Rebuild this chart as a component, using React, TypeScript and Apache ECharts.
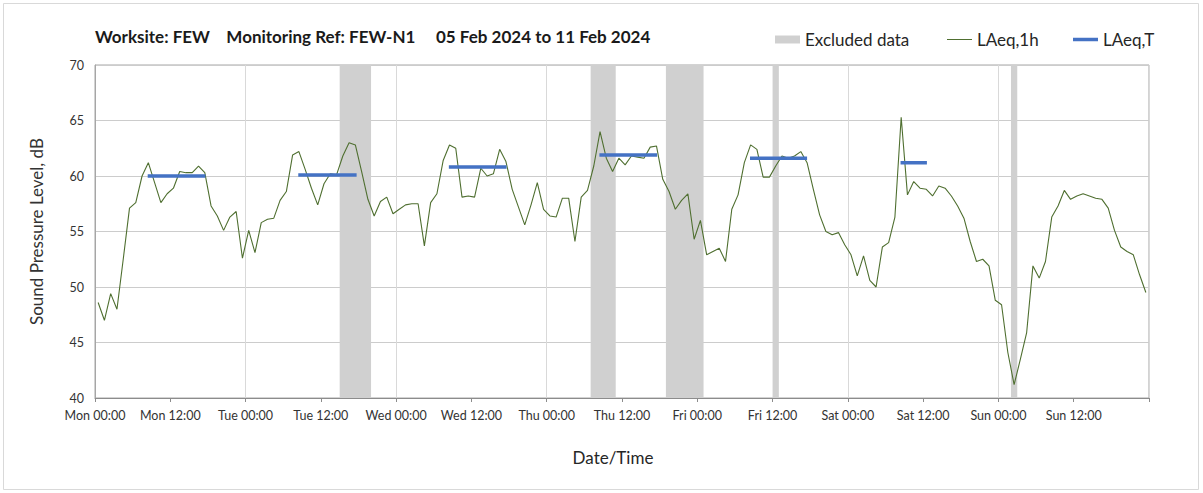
import React, { useEffect, useRef } from "react";
import * as echarts from "echarts";

// Hourly LAeq,1h values, Mon 00:00 .. Sun 23:00 (plotted at mid-hour)
const LAEQ_1H: number[] = [
  48.6, 47.0, 49.4, 48.0, 52.5, 57.1, 57.6, 60.0, 61.2, 59.4,
  57.6, 58.4, 58.9, 60.4, 60.3, 60.3, 60.9, 60.3, 57.3, 56.4,
  55.1, 56.3, 56.8, 52.6, 55.1, 53.1, 55.8, 56.1, 56.2, 57.8,
  58.6, 61.9, 62.2, 60.6, 58.9, 57.4, 59.3, 60.2, 60.1, 61.8,
  63.0, 62.8, 60.4, 57.9, 56.4, 57.7, 58.1, 56.6, 57.0, 57.4,
  57.5, 57.5, 53.7, 57.6, 58.4, 61.4, 62.8, 62.5, 58.1, 58.2,
  58.1, 60.7, 60.0, 60.2, 62.4, 61.3, 58.8, 57.2, 55.6, 57.4,
  59.4, 57.0, 56.4, 56.3, 58.0, 58.0, 54.1, 58.1, 58.7, 60.9,
  64.0, 61.6, 60.4, 61.6, 61.0, 61.8, 61.7, 61.6, 62.6, 62.7,
  59.7, 58.6, 57.0, 57.8, 58.4, 54.3, 56.0, 52.9, 53.2, 53.5,
  52.3, 57.0, 58.3, 61.2, 62.8, 62.4, 59.9, 59.9, 60.9, 61.8,
  61.6, 61.8, 62.2, 61.2, 58.8, 56.5, 55.0, 54.7, 54.9, 53.8,
  52.9, 51.0, 52.8, 50.6, 50.0, 53.6, 54.0, 56.3, 65.3, 58.3,
  59.5, 58.9, 58.8, 58.2, 59.1, 58.9, 58.2, 57.3, 56.2, 54.1,
  52.3, 52.5, 51.9, 48.8, 48.4, 44.1, 41.2, 43.5, 45.9, 51.9,
  50.8, 52.3, 56.3, 57.3, 58.7, 57.9, 58.2, 58.4, 58.2, 58.0,
  57.9, 57.1, 55.1, 53.6, 53.2, 52.9, 51.1, 49.5,
];

// LAeq,T daytime levels with start/end hours (from Mon 00:00)
const LAEQ_T: number[] = [60.0, 60.1, 60.8, 61.9, 61.6, 61.2];
const LAEQ_T_START: number[] = [8.4, 32.4, 56.4, 80.4, 104.4, 128.4];
const LAEQ_T_END: number[] = [17.6, 41.7, 65.6, 89.6, 113.5, 132.6];

// Excluded data windows (hours from Mon 00:00)
const EXCL_START: number[] = [39, 79, 91, 108, 146];
const EXCL_END: number[] = [44, 83, 97, 109, 147];

const DAYS: string[] = ["Mon", "Tue", "Wed", "Thu", "Fri", "Sat", "Sun"];
const TIMES: string[] = ["00:00", "12:00"];
const Y_MIN = 40;
const Y_MAX = 70;
const X_MAX = 168;

const FONT = "Lato, 'Noto Sans', sans-serif";
const GREEN = "#4f6f30";
const BLUE = "#4472c4";
const GREY = "#d0d0d0";

export default function App() {
  const ref = useRef<HTMLDivElement>(null);

  useEffect(() => {
    if (!ref.current) return;
    const chart = echarts.init(ref.current, undefined, { renderer: "svg" });

    const lineData = LAEQ_1H.map((v, i) => [i + 0.5, v]);
    const tData: any[] = [];
    LAEQ_T.forEach((v, k) => {
      tData.push([LAEQ_T_START[k], v]);
      tData.push([LAEQ_T_END[k], v]);
      tData.push([LAEQ_T_END[k] + 0.5, "-"]);
    });
    const areas = EXCL_START.map((s, k) => [{ xAxis: s }, { xAxis: EXCL_END[k] }]);

    const legendText = { fontFamily: FONT, fontSize: 17, color: "#262626" };
    const legendTop = 31;

    chart.setOption({
      animation: false,
      backgroundColor: "#ffffff",
      textStyle: { fontFamily: FONT },
      grid: {
        left: 95,
        top: 65,
        right: 54,
        bottom: 95,
        show: true,
        borderColor: "#a6a6a6",
        borderWidth: 1,
        backgroundColor: "transparent",
      },
      legend: [
        {
          top: legendTop,
          left: 775,
          padding: 0,
          itemWidth: 25,
          itemHeight: 8,
          textStyle: legendText,
          data: [{ name: "Excluded data", icon: "rect", itemStyle: { color: GREY } }],
        },
        {
          top: legendTop,
          left: 947,
          padding: 0,
          itemWidth: 25,
          itemHeight: 1,
          textStyle: legendText,
          data: [{ name: "LAeq,1h", icon: "rect", itemStyle: { color: GREEN } }],
        },
        {
          top: legendTop,
          left: 1073,
          padding: 0,
          itemWidth: 25,
          itemHeight: 3.5,
          textStyle: legendText,
          data: [{ name: "LAeq,T", icon: "rect", itemStyle: { color: BLUE } }],
        },
      ],
      xAxis: [
        {
          type: "value",
          min: 0,
          max: X_MAX,
          interval: 12,
          axisLine: { show: true, lineStyle: { color: "#8c8c8c", width: 1 } },
          axisTick: { show: true, length: 4, lineStyle: { color: "#8c8c8c" } },
          splitLine: { show: false },
          axisLabel: {
            margin: 11,
            fontSize: 12.5,
            color: "#333333",
            fontFamily: FONT,
            formatter: (v: number) =>
              v >= X_MAX ? "" : `${DAYS[Math.floor(v / 24)]} ${TIMES[(v % 24) / 12]}`,
          },
        },
        {
          type: "value",
          min: 0,
          max: X_MAX,
          interval: 24,
          position: "bottom",
          axisLine: { show: false },
          axisTick: { show: false },
          axisLabel: { show: false },
          splitLine: { show: true, lineStyle: { color: "#d9d9d9", width: 1 } },
        },
      ],
      yAxis: {
        type: "value",
        min: Y_MIN,
        max: Y_MAX,
        interval: 5,
        name: "Sound Pressure Level, dB",
        nameLocation: "middle",
        nameGap: 50,
        nameTextStyle: { fontSize: 17, color: "#333333", fontFamily: FONT },
        axisLine: { show: true, lineStyle: { color: "#a6a6a6" } },
        axisTick: { show: false },
        axisLabel: { margin: 11, fontSize: 12.5, color: "#333333", fontFamily: FONT },
        splitLine: { show: true, lineStyle: { color: "#cccccc", width: 1 } },
      },
      graphic: [
        {
          type: "rect",
          shape: { x: 3.5, y: 3.5, width: 1195, height: 486 },
          style: { fill: "none", stroke: "#d9d9d9", lineWidth: 1 },
          silent: true,
          z: -10,
        },
        {
          type: "text",
          left: 95,
          top: 28,
          style: {
            text: "Worksite: FEW    Monitoring Ref: FEW-N1     05 Feb 2024 to 11 Feb 2024",
            font: `bold 17px ${FONT}`,
            fill: "#1a1a1a",
          },
        },
        {
          type: "text",
          x: 613,
          y: 457,
          style: {
            text: "Date/Time",
            font: `17px ${FONT}`,
            fill: "#262626",
            align: "center",
            verticalAlign: "middle",
          },
        },
      ],
      series: [
        {
          name: "Excluded data",
          type: "line",
          data: [],
          color: GREY,
          symbol: "none",
          markArea: {
            silent: true,
            itemStyle: { color: GREY, opacity: 1 },
            data: areas,
          },
          z: 1,
        },
        {
          name: "LAeq,1h",
          type: "line",
          data: lineData,
          symbol: "none",
          color: GREEN,
          lineStyle: { color: GREEN, width: 1.1 },
          z: 3,
        },
        {
          name: "LAeq,T",
          type: "line",
          data: tData,
          symbol: "none",
          connectNulls: false,
          color: BLUE,
          lineStyle: { color: BLUE, width: 3.5 },
          z: 4,
        },
      ],
    });

    return () => chart.dispose();
  }, []);

  return (
    <div
      ref={ref}
      style={{ position: "fixed", left: 0, top: 0, width: 1203, height: 493 }}
    />
  );
}
